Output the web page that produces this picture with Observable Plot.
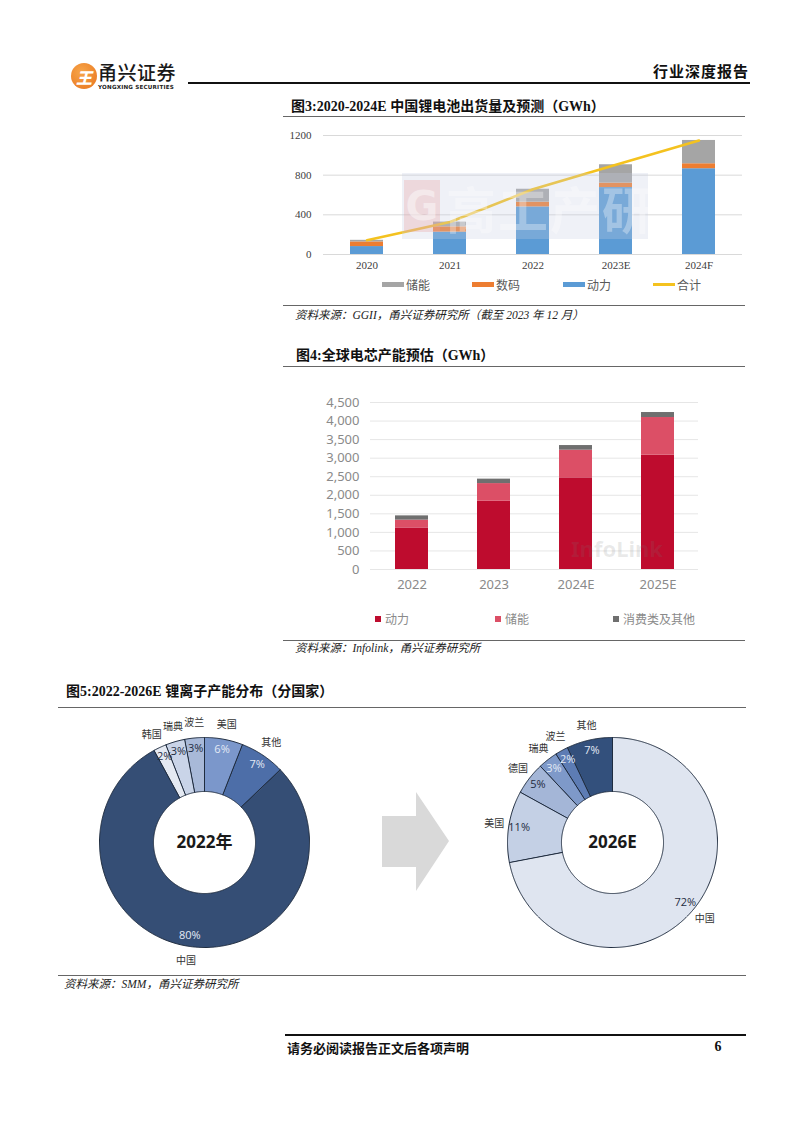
<!DOCTYPE html>
<html><head><meta charset="utf-8">
<script src="https://cdn.jsdelivr.net/npm/d3@7"></script>
<script src="https://cdn.jsdelivr.net/npm/@observablehq/plot@0.6"></script>
<style>
html,body{margin:0;padding:0;background:#fff;}
#page{position:relative;width:802px;height:1133px;overflow:hidden;font-family:"Liberation Serif","Noto Sans CJK SC",serif;color:#111;}
.a{position:absolute;white-space:nowrap;line-height:1;}
</style></head><body><div id="page"></div>
<script>
// ---------- Data ----------
// Fig 3: China lithium battery shipments (GWh)
const years3 = ["2020", "2021", "2022", "2023E", "2024F"];
const power3 = [80, 226, 480, 675, 865];      // 动力
const digital3 = [47, 53, 48, 45, 50];        // 数码
const storage3 = [16, 48, 130, 185, 235];     // 储能
const total3 = [143, 327, 658, 905, 1150];    // 合计
const types3 = ["储能", "数码", "动力"];
const legend3 = ["储能", "数码", "动力", "合计"];
const yTicks3 = [0, 400, 800, 1200];

// Fig 4: global cell capacity (GWh)
const years4 = ["2022", "2023", "2024E", "2025E"];
const power4 = [1120, 1840, 2470, 3080];      // 动力
const storage4 = [210, 475, 745, 1015];       // 储能
const other4 = [115, 120, 125, 135];          // 消费类及其他
const types4 = ["动力", "储能", "消费类及其他"];
const yTicks4 = [0, 500, 1000, 1500, 2000, 2500, 3000, 3500, 4000, 4500];

// Fig 5: Li-ion capacity by country (%)
const names2022 = ["美国", "其他", "中国", "韩国", "瑞典", "波兰"];
const shares2022 = [6, 7, 80, 2, 3, 3];
const names2026 = ["中国", "美国", "德国", "瑞典", "波兰", "其他"];
const shares2026 = [72, 11, 5, 3, 2, 7];

// ---------- Palettes ----------
const palette3 = ["#a5a5a5", "#ed7d31", "#5b9bd5"];
const lineColor3 = "#f4c21f";
const palette4 = ["#be0c2e", "#dc4f66", "#6f6f6f"];
const palette2022 = ["#7b97cb", "#4d6ea8", "#354e75", "#e4e9f2", "#c9d4e8", "#a8b9d8"];
const palette2026 = ["#dfe5f0", "#c4d0e5", "#a4b6d7", "#7e99c9", "#5d7cb4", "#33507c"];

// ---------- helpers ----------
const page = document.getElementById("page");
function T(x, y, s, css = "", anchor = "start") {
  const d = document.createElement("div");
  d.className = "a";
  d.textContent = s;
  const tx = anchor === "end" ? "-100%" : anchor === "middle" ? "-50%" : "0";
  d.style.cssText = `left:${x}px;top:${y}px;transform:translate(${tx},-50%);` + css;
  page.appendChild(d);
  return d;
}
function R(x, y, w, h, css) {
  const d = document.createElement("div");
  d.className = "a";
  d.style.cssText = `left:${x}px;top:${y}px;width:${w}px;height:${h}px;` + css;
  page.appendChild(d);
  return d;
}
function place(svg, x, y) {
  svg.style.position = "absolute";
  svg.style.left = x + "px";
  svg.style.top = y + "px";
  svg.style.maxWidth = "none";
  page.appendChild(svg);
}
const titleCss = "font-weight:bold;font-size:14px;color:#111;";
const srcCss = "font-style:italic;font-size:11.5px;color:#222;";

// ---------- Header ----------
R(71, 63, 26, 26, "border-radius:50%;background:radial-gradient(circle at 40% 35%,#f7a64a,#e8731c);");
T(84, 76.5, "王", "font-family:'Noto Sans CJK SC';font-weight:900;font-size:16px;color:#fff;font-style:italic;", "middle");
T(98, 71, "甬兴证券", "font-family:'Noto Sans CJK SC';font-weight:500;font-size:19px;color:#1a1a1a;letter-spacing:0.5px;");
T(98, 88, "YONGXING SECURITIES", "font-family:'DejaVu Sans';font-weight:bold;font-size:5.6px;color:#222;letter-spacing:0.2px;");
R(188, 82, 562, 1.5, "background:#111;");
T(749, 70, "行业深度报告", "font-family:'Noto Sans CJK SC';font-weight:bold;font-size:15px;color:#111;letter-spacing:1px;", "end");

// ---------- Fig 3 ----------
T(291, 107, "图3:2020-2024E 中国锂电池出货量及预测（GWh）", titleCss);
R(283, 116, 462, 1, "background:#666;");

const rows3 = [];
years3.forEach((y, i) => {
  rows3.push({year: y, type: "动力", value: power3[i]});
  rows3.push({year: y, type: "数码", value: digital3[i]});
  rows3.push({year: y, type: "储能", value: storage3[i]});
});
const line3 = years3.map((y, i) => ({year: y, total: total3[i]}));

const chart3 = Plot.plot({
  width: 460, height: 150,
  marginLeft: 38, marginRight: 3, marginTop: 10, marginBottom: 21,
  style: {background: "transparent", fontFamily: "'Liberation Serif','Noto Sans CJK SC',serif", fontSize: "11px", color: "#404040"},
  x: {domain: years3, paddingInner: 0.6, paddingOuter: 0.3, label: null},
  y: {domain: [0, 1200], label: null},
  color: {domain: types3, range: palette3},
  marks: [
    Plot.gridY(yTicks3, {stroke: "#d9d9d9", strokeOpacity: 1}),
    Plot.barY(rows3, {x: "year", y: "value", fill: "type"}),
    Plot.line(line3, {x: "year", y: "total", stroke: lineColor3, strokeWidth: 2.6}),
    Plot.axisY({ticks: yTicks3, tickFormat: d3.format("d"), tickSize: 0, tickPadding: 12, label: null}),
    Plot.axisX({tickSize: 0, tickPadding: 7, label: null})
  ]
});
place(chart3, 285, 125);

// watermark 高工产研
R(402, 173, 246, 66, "background:rgba(196,206,226,0.28);");
R(404, 180, 36, 52, "background:rgba(232,150,150,0.28);");
T(422, 206, "G", "font-family:'DejaVu Sans';font-weight:bold;font-size:40px;color:rgba(255,255,255,0.45);", "middle");
T(446, 207, "高工产研", "font-family:'Noto Sans CJK SC';font-weight:bold;font-size:50px;color:rgba(255,255,255,0.32);letter-spacing:2px;");

// legend 3
const legX3 = [382, 472, 563, 653];
legend3.forEach((name, i) => {
  const c = i < 3 ? palette3[i] : lineColor3;
  R(legX3[i], i < 3 ? 282 : 283, 22, i < 3 ? 5 : 2.5, `background:${c};`);
  T(legX3[i] + 24, 284.5, name, "font-family:'Noto Sans CJK SC';font-size:12px;color:#595959;");
});

R(283, 305, 462, 1, "background:#666;");
T(295, 316, "资料来源：GGII，甬兴证券研究所（截至 2023 年 12 月）", srcCss);

// ---------- Fig 4 ----------
T(296, 356, "图4:全球电芯产能预估（GWh）", titleCss);
R(283, 366, 462, 1, "background:#666;");

const rows4 = [];
years4.forEach((y, i) => {
  rows4.push({year: y, type: "动力", value: power4[i]});
  rows4.push({year: y, type: "储能", value: storage4[i]});
  rows4.push({year: y, type: "消费类及其他", value: other4[i]});
});
const chart4 = Plot.plot({
  width: 420, height: 215,
  marginLeft: 80, marginRight: 12, marginTop: 12, marginBottom: 36,
  style: {background: "transparent", fontFamily: "'Noto Sans','Noto Sans CJK SC',sans-serif", fontSize: "13px", color: "#8a8a8a"},
  x: {domain: years4, paddingInner: 0.6, paddingOuter: 0.3, label: null},
  y: {domain: [0, 4500], label: null},
  color: {domain: types4, range: palette4},
  marks: [
    Plot.gridY(yTicks4, {stroke: "#e6e6e6", strokeOpacity: 1}),
    Plot.barY(rows4, {x: "year", y: "value", fill: "type"}),
    Plot.axisY({ticks: yTicks4, tickFormat: d3.format(","), tickSize: 0, tickPadding: 11, label: null}),
    Plot.axisX({tickSize: 0, tickPadding: 10, label: null})
  ]
});
place(chart4, 290, 390);
T(617, 548, "InfoLink", "font-family:'Noto Sans';font-weight:bold;font-size:22px;color:rgba(120,120,120,0.16);", "middle");

const legX4 = [375, 495, 613];
types4.forEach((name, i) => {
  R(legX4[i], 616, 6, 6, `background:${palette4[i]};`);
  T(legX4[i] + 10, 619, name, "font-family:'Noto Sans CJK SC';font-size:12px;color:#8a8a8a;");
});
R(283, 640, 462, 1.2, "background:#666;");
T(295, 649, "资料来源：Infolink，甬兴证券研究所", srcCss);

// ---------- Fig 5 ----------
T(66, 692, "图5:2022-2026E 锂离子产能分布（分国家）", titleCss);
R(58, 707, 688, 1.2, "background:#666;");

const innerR = 0.486;
const PX = 105; // pixels per unit radius
function textW(s, fs) {
  return [...s].reduce((w, c) => w + (/[\u4e00-\u9fff]/.test(c) ? fs : fs * 0.58), 0);
}
// simple collision relaxation of label positions (in data units)
function relax(items, xk, yk, tk, fs) {
  for (let it = 0; it < 200; it++) {
    let moved = false;
    for (let i = 0; i < items.length; i++) for (let j = i + 1; j < items.length; j++) {
      const a = items[i], b = items[j];
      const dx = (b[xk] - a[xk]) * PX, dy = (b[yk] - a[yk]) * PX;
      const ox = (textW(a[tk], fs) + textW(b[tk], fs)) / 2 + 1 - Math.abs(dx);
      const oy = fs + 1 - Math.abs(dy);
      if (ox > 0 && oy > 0) {
        moved = true;
        const len = Math.hypot(dx, dy) || 1;
        const step = 0.4 / PX;
        a[xk] -= dx / len * step; a[yk] -= dy / len * step;
        b[xk] += dx / len * step; b[yk] += dy / len * step;
      }
    }
    if (!moved) break;
  }
}
function donut(names, values, palette, center) {
  const rows = names.map((n, i) => ({name: n, value: values[i]}));
  const arcs = d3.pie().sort(null).value(d => d.value)(rows);
  const pts = [];
  const labels = [];
  arcs.forEach(a => {
    const n = Math.max(2, Math.ceil((a.endAngle - a.startAngle) / 0.01));
    for (let k = 0; k <= n; k++) {
      const t = a.startAngle + (a.endAngle - a.startAngle) * k / n;
      pts.push({name: a.data.name, x: Math.sin(t), y: Math.cos(t)});
    }
    for (let k = n; k >= 0; k--) {
      const t = a.startAngle + (a.endAngle - a.startAngle) * k / n;
      pts.push({name: a.data.name, x: innerR * Math.sin(t), y: innerR * Math.cos(t)});
    }
    const m = (a.startAngle + a.endAngle) / 2;
    const col = palette[names.indexOf(a.data.name)];
    labels.push({
      name: a.data.name, pct: a.data.value + "%",
      px: 0.9 * Math.sin(m), py: 0.9 * Math.cos(m),
      nx: 1.14 * Math.sin(m), ny: 1.14 * Math.cos(m),
      light: d3.hsl(col).l < 0.7
    });
  });
  relax(labels, "px", "py", "pct", 10.5);
  relax(labels, "nx", "ny", "name", 10);
  return Plot.plot({
    width: 294, height: 284, margin: 0,
    style: {background: "transparent"},
    x: {domain: [-1.4, 1.4], axis: null},
    y: {domain: [-284 / 2 / PX, 284 / 2 / PX], axis: null},
    color: {domain: names, range: palette},
    marks: [
      Plot.line(pts, {x: "x", y: "y", z: "name", fill: "name", stroke: "#1f2c3f", strokeWidth: 1, curve: "linear-closed"}),
      Plot.text(labels.filter(d => d.light), {x: "px", y: "py", text: "pct", fill: "#e3eaf5", fontSize: 11, fontFamily: "'Open Sans',sans-serif"}),
      Plot.text(labels.filter(d => !d.light), {x: "px", y: "py", text: "pct", fill: "#1f2c3f", fontSize: 11, fontFamily: "'Open Sans',sans-serif"}),
      Plot.text(labels, {x: "nx", y: "ny", text: "name", fill: "#333", fontSize: 10, fontFamily: "'Noto Sans CJK SC',sans-serif"}),
      Plot.text([center], {frameAnchor: "middle", text: d => d, fill: "#1a1a1a", fontSize: 17, fontWeight: "bold", fontFamily: "'Open Sans','Noto Sans CJK SC',sans-serif"})
    ]
  });
}
place(donut(names2022, shares2022, palette2022, "2022年"), 57, 700);
place(donut(names2026, shares2026, palette2026, "2026E"), 465, 700);

// arrow
const ns = "http://www.w3.org/2000/svg";
const arrow = document.createElementNS(ns, "svg");
arrow.setAttribute("width", "802"); arrow.setAttribute("height", "1133");
arrow.style.cssText = "position:absolute;left:0;top:0;pointer-events:none;";
const poly = document.createElementNS(ns, "polygon");
poly.setAttribute("points", "382,816 416,816 416,792 449,841 416,891 416,867 382,867");
poly.setAttribute("fill", "#d9d9d9");
arrow.appendChild(poly);
page.appendChild(arrow);

R(58, 975, 688, 1.2, "background:#666;");
T(64, 985, "资料来源：SMM，甬兴证券研究所", srcCss);

// ---------- Footer ----------
R(285, 1034, 461, 1.5, "background:#111;");
T(287, 1047, "请务必阅读报告正文后各项声明", "font-family:'Noto Sans CJK SC';font-weight:bold;font-size:13px;color:#111;");
T(718, 1047, "6", "font-weight:bold;font-size:14px;color:#111;", "middle");
</script></body></html>
